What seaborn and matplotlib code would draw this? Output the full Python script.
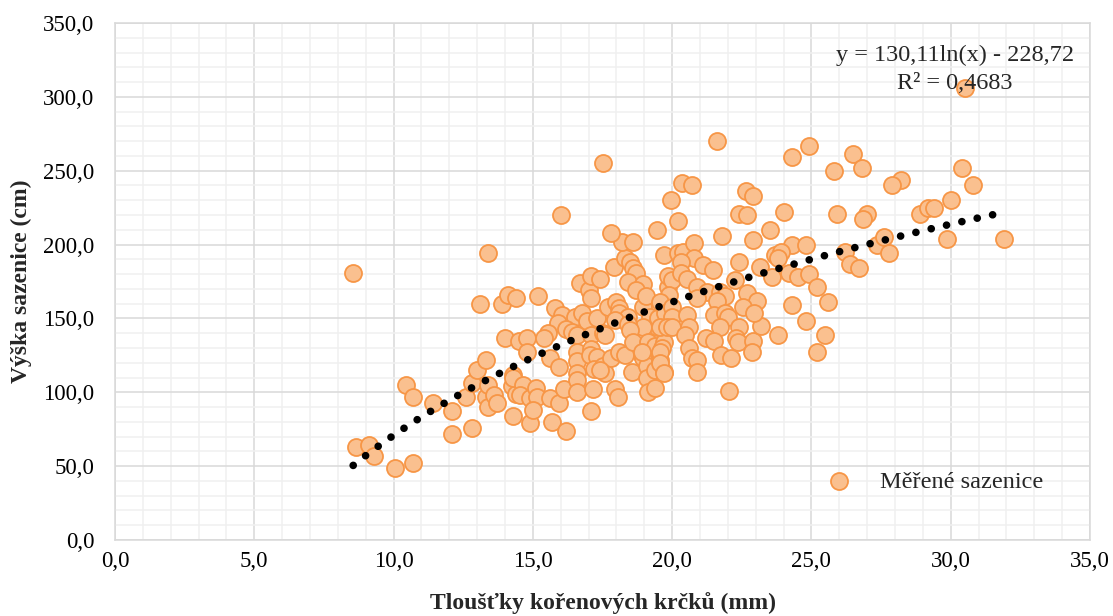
import numpy as np
import pandas as pd
import matplotlib
matplotlib.use("Agg")
import matplotlib.pyplot as plt
from matplotlib.ticker import MultipleLocator, FuncFormatter
import seaborn as sns

# ---- data ----
tloustka = [
    8.55, 8.65, 9.1, 9.3, 10.05, 10.45, 10.7, 10.7, 11.4, 12.1, 12.1, 12.6, 12.8, 12.8,
    13.0, 13.1, 13.3, 13.3, 13.4, 13.4, 13.4, 13.6, 13.7, 13.9, 14.0, 14.1, 14.3, 14.25,
    14.4, 14.3, 14.4, 14.5, 14.8, 14.3, 14.65, 14.55, 14.9, 14.9, 14.8, 15.1, 15.15, 15.0,
    15.2, 15.6, 15.95, 16.1, 15.6, 15.95, 15.8, 16.05, 15.9, 15.55, 15.4, 16.0, 15.7, 16.2,
    16.5, 16.75, 16.95, 17.3, 17.7, 18.0, 18.1,
    16.2, 16.4, 16.6, 17.1, 17.5, 17.6,
    16.6, 16.6, 16.6, 16.6, 16.6,
    17.1, 17.05, 17.3, 17.2, 17.5, 17.6, 17.8, 18.1, 18.3, 17.4,
    17.15, 17.1, 17.95, 18.05,
    18.55, 18.9, 18.95, 19.1, 19.1, 19.4, 19.7, 19.55,
    19.15, 19.4,
    18.1, 18.4, 18.95, 19.2, 19.45, 18.95, 17.95, 18.4, 18.5, 19.5,
    18.6, 19.15, 19.4, 19.7, 19.65, 18.9,
    16.7, 17.0, 17.1, 17.1, 17.4, 17.9, 18.3, 18.5, 18.6, 18.7, 18.4, 18.95, 18.7, 19.05,
    19.85, 18.2, 18.6, 17.8, 17.5, 19.45, 19.96, 20.2, 20.35, 20.7, 19.7, 20.2, 20.4, 20.8, 20.8,
    20.3, 21.1, 21.45, 19.85, 20.0, 20.3, 20.55, 19.9, 20.9, 21.25, 20.9, 21.7, 21.9, 21.6,
    22.25, 22.4, 23.15,
    19.55, 19.75, 20.0, 20.0, 19.55, 19.8, 20.0, 20.55, 20.6, 20.45, 20.6, 20.7, 20.9, 20.9,
    19.55, 19.55, 19.7,
    21.5, 21.9, 22.0, 21.7, 22.4, 22.3, 22.35, 21.2, 21.5, 21.75, 22.1, 22.9, 22.85, 23.2,
    23.8, 22.05, 22.7, 23.05, 22.55, 22.95, 24.3, 24.8, 25.5, 25.2, 25.6,
    21.6, 24.9, 24.3, 26.5, 26.8, 25.8, 22.65, 22.9, 22.4, 22.7, 24.0, 25.9, 27.0, 26.85,
    23.5, 21.8, 22.9, 24.3, 24.8, 27.35, 26.2, 23.7, 23.9, 23.8, 26.4, 26.7, 23.6, 24.2,
    24.5, 24.9, 25.2,
    30.5, 30.4, 30.8, 28.2, 27.9, 30.0, 28.9, 29.2, 29.4, 29.85, 31.9, 27.6, 27.8,
]
vyska = [
    181, 63, 64, 57, 49, 105, 97, 52, 93, 87, 72, 97, 76, 106,
    115, 160, 122, 97, 194, 105, 90, 98, 93, 160, 137, 166, 112, 104,
    99, 84, 164, 135, 137, 110, 105, 98, 96, 79, 127, 103, 97, 88,
    165, 96, 93, 102, 123, 117, 157, 152, 147, 140, 137, 220, 80, 74,
    151, 154, 148, 150, 158, 161, 157,
    143, 141, 139, 139, 140, 139,
    127, 121, 113, 108, 100,
    129, 125, 124, 116, 118, 113, 123, 127, 125, 115,
    102, 87, 102, 97,
    114, 125, 123, 118, 110, 115, 114, 122,
    100, 103,
    154, 151, 158, 151, 144, 144, 149, 146, 142, 150,
    134, 134, 131, 134, 130, 127,
    174, 169, 164, 179, 177, 185, 191, 188, 184, 181, 175, 173, 169, 165,
    171, 202, 202, 208, 255, 210, 230, 216, 242, 240, 193, 194, 195, 201, 191,
    188, 186, 183, 179, 176, 181, 177, 166, 171, 168, 164, 168, 165, 162,
    176, 188, 185,
    161, 154, 158, 151, 144, 144, 144, 152, 144, 139, 130, 123, 122, 114,
    127, 120, 113,
    152, 154, 151, 144, 144, 137, 134, 137, 135, 125, 123, 135, 127, 145,
    139, 101, 167, 162, 158, 154, 159, 148, 139, 127, 161,
    270, 267, 259, 261, 252, 250, 236, 233, 221, 220, 222, 221, 221, 217,
    210, 206, 203, 200, 200, 200, 195, 193, 195, 191, 187, 184, 178, 181,
    178, 180, 171,
    306, 252, 240, 244, 240, 230, 221, 225, 225, 204, 204, 205, 194,
]
x_ticks = [0, 5, 10, 15, 20, 25, 30, 35]
y_ticks = [0, 50, 100, 150, 200, 250, 300, 350]
series_name = "Měřené sazenice"
x_label = "Tloušťky kořenových krčků (mm)"
y_label = "Výška sazenice (cm)"
coef_a, coef_b = 130.11, -228.72
eq_text = "y = 130,11ln(x) - 228,72"
r2_text = "R² = 0,4683"

df = pd.DataFrame({"x": tloustka, "y": vyska})
tx = np.linspace(min(tloustka), max(tloustka), 300)
trend = pd.DataFrame({"x": tx, "y": coef_a * np.log(tx) + coef_b})

sns.set_style("white")
plt.rcParams["font.family"] = ["Liberation Serif", "DejaVu Serif"]

fig = plt.figure(figsize=(11.13, 6.16), dpi=100)
ax = fig.add_axes([115 / 1113, 1 - 540 / 616, 975 / 1113, 517 / 616])

sns.scatterplot(data=df, x="x", y="y", ax=ax, s=150, color="#FAC08F",
                edgecolor="#F79646", linewidth=1.3, label=series_name, zorder=3)
sns.lineplot(data=trend, x="x", y="y", ax=ax, color="black", linewidth=5.5,
             linestyle=(0, (0.01, 2.05)), dash_capstyle="round", zorder=4,
             legend=False)

ax.set_xlim(0, 35)
ax.set_ylim(0, 350)
ax.set_xticks(x_ticks)
ax.set_yticks(y_ticks)
ax.xaxis.set_minor_locator(MultipleLocator(1))
ax.yaxis.set_minor_locator(MultipleLocator(10))
fmt = FuncFormatter(lambda v, p: f"{v:.1f}".replace(".", ","))
ax.xaxis.set_major_formatter(fmt)
ax.yaxis.set_major_formatter(fmt)
ax.grid(which="major", color="#D9D9D9", linewidth=1.1, zorder=0)
ax.grid(which="minor", color="#F0F0F0", linewidth=1.1, zorder=0)
ax.set_axisbelow(True)
for s in ax.spines.values():
    s.set_color("#D9D9D9")
    s.set_linewidth(1.1)
ax.tick_params(which="both", length=0, labelsize=16.5, colors="#000000")
ax.tick_params(axis="x", pad=8)
ax.tick_params(axis="y", pad=15)

ax.set_xlabel(x_label, fontsize=17, fontweight="bold", labelpad=14)
ax.set_ylabel(y_label, fontsize=17, fontweight="bold", labelpad=8)

ax.text(30.15, 328, eq_text, ha="center", va="center", fontsize=17.5)
ax.text(30.15, 309, r2_text, ha="center", va="center", fontsize=17.5)

leg = ax.legend(loc="center left", bbox_to_anchor=(0.695, 0.113), frameon=False,
                fontsize=17.5, handletextpad=0.7, markerscale=1.0)

fig.savefig("out.png", dpi=100)
